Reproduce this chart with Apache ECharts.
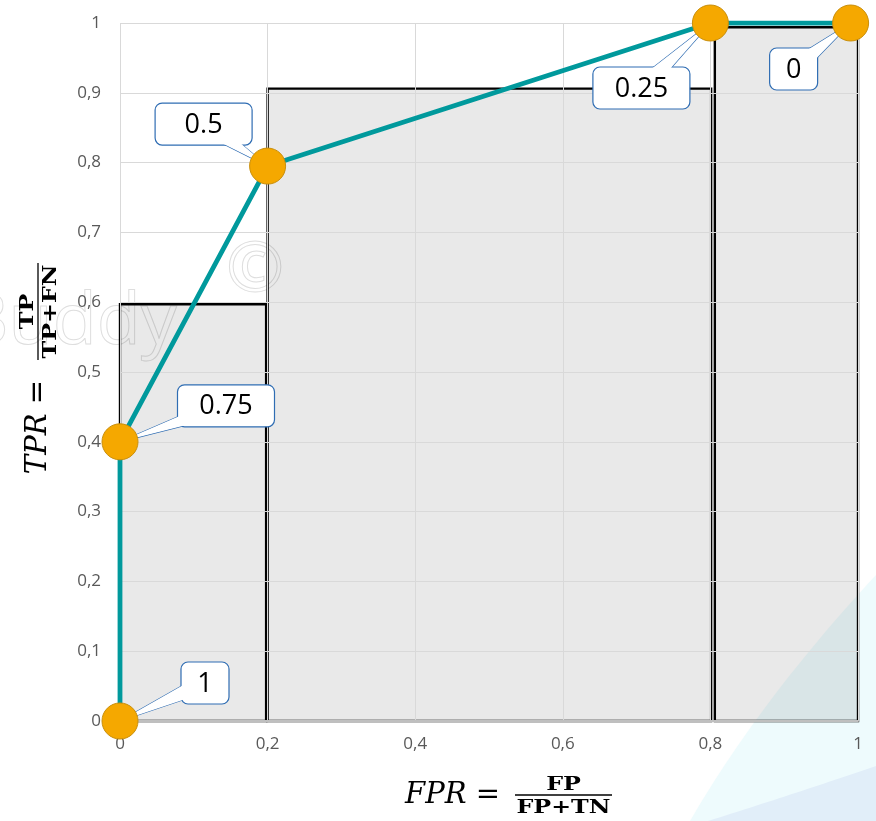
<!DOCTYPE html>
<html><head><meta charset="utf-8">
<script src="https://cdn.jsdelivr.net/npm/echarts@6/dist/echarts.min.js"></script>
<style>html,body{margin:0;padding:0;background:#fff}#chart{width:876px;height:821px}</style>
</head><body><div id="chart"></div>
<script>
// ---- data ----
const fpr = [0, 0, 0.2, 0.8, 0.99];
const tpr = [0, 0.4, 0.795, 1, 1];
const thresholds = ['1', '0.75', '0.5', '0.25', '0'];
const rectLeft = [0, 0.2, 0.806];
const rectRight = [0.198, 0.801, 1];
const rectTop = [0.597, 0.906, 0.994];
const xTickStep = 0.2;
const yTickStep = 0.1;

// ---- styling (pixel offsets of callout boxes relative to their points) ----
const calloutOffset = [[85, -38], [106, -36], [-64, -42], [-69, 65], [-57, 46]];

const chart = echarts.init(document.getElementById('chart'), null, {renderer: 'canvas'});
const fmt = v => String(Number(v.toFixed(2))).replace('.', ',');

// decorative background swoosh (quadratic curve sampled into a polygon)
function swoosh(p0, p1, p2) {
  const pts = [];
  for (let k = 0; k <= 30; k++) {
    const t = k / 30, a = (1 - t) * (1 - t), b = 2 * t * (1 - t), c = t * t;
    pts.push([a * p0[0] + b * p1[0] + c * p2[0], a * p0[1] + b * p1[1] + c * p2[1]]);
  }
  pts.push([876, 821]);
  return pts;
}

function mathName(x, y, rot, lhs, num, den, w, gap) {
  return {
    type: 'group', x: x, y: y, rotation: rot, z: 10,
    children: [
      {type: 'text', x: -gap, y: 0, style: {text: lhs, font: 'italic 29px "DejaVu Serif"', align: 'right', verticalAlign: 'middle', fill: '#000'}},
      {type: 'text', x: w / 2, y: 0, scaleX: 1.25, style: {text: num, font: 'bold 19px "DejaVu Serif"', align: 'center', verticalAlign: 'bottom', fill: '#000'}},
      {type: 'rect', shape: {x: 0, y: -0.65, width: w, height: 1.3}, style: {fill: '#000'}},
      {type: 'text', x: w / 2, y: 4, scaleX: 1.25, style: {text: den, font: 'bold 19px "DejaVu Serif"', align: 'center', verticalAlign: 'top', fill: '#000'}}
    ]
  };
}

const option = {
  animation: false,
  backgroundColor: '#fff',
  grid: {left: 120, right: 18, top: 23, bottom: 100, containLabel: false},
  graphic: [
    {type: 'polygon', z: -10, shape: {points: swoosh([690, 821], [760, 700], [876, 575])}, style: {fill: '#eefbfd'}},
    {type: 'polygon', z: -9, shape: {points: swoosh([708, 821], [800, 792], [876, 766])}, style: {fill: '#e1eef9'}},
    {type: 'text', z: -8, x: -38, y: 287, style: {text: 'Buddy', font: '72px "Open Sans"', fill: 'rgba(0,0,0,0)', stroke: '#dedede', lineWidth: 1, verticalAlign: 'top'}},
    {type: 'text', z: -8, x: 226, y: 236, style: {text: '©', font: '70px "Open Sans"', fill: 'rgba(0,0,0,0)', stroke: '#dedede', lineWidth: 1, verticalAlign: 'top'}},
    mathName(515, 795, 0, 'FPR =', 'FP', 'FP+TN', 97, 15),
    mathName(38, 360, Math.PI / 2, 'TPR =', 'TP', 'TP+FN', 97, 20)
  ],
  xAxis: {
    type: 'value', min: 0, max: 1, interval: xTickStep, z: 3,
    axisLine: {show: true, lineStyle: {color: '#bfbfbf', width: 2}},
    axisTick: {show: false},
    axisLabel: {formatter: fmt, color: '#595959', fontSize: 17, fontFamily: 'Open Sans', margin: 15},
    splitLine: {show: true, lineStyle: {color: '#d9d9d9', width: 1}}
  },
  yAxis: {
    type: 'value', min: 0, max: 1, interval: yTickStep, z: 3,
    axisLine: {show: false},
    axisTick: {show: false},
    axisLabel: {formatter: fmt, color: '#595959', fontSize: 17, fontFamily: 'Open Sans', margin: 19},
    splitLine: {show: true, lineStyle: {color: '#d9d9d9', width: 1}}
  },
  series: [
    {
      type: 'custom', z: 2, clip: false, silent: true,
      data: rectLeft.map((l, i) => [l, rectRight[i], rectTop[i]]),
      encode: {x: [0, 1], y: 2},
      renderItem: function (params, api) {
        const p0 = api.coord([api.value(0), 0]);
        const p1 = api.coord([api.value(1), api.value(2)]);
        return {
          type: 'rect',
          shape: {x: p0[0], y: p1[1], width: p1[0] - p0[0], height: p0[1] - p1[1]},
          style: {fill: 'rgba(0,0,0,0.088)', stroke: '#000', lineWidth: 2.4}
        };
      }
    },
    {
      type: 'custom', z: 4, clip: false, silent: true,
      data: fpr.map((x, i) => [x, tpr[i]]),
      encode: {x: 0, y: 1},
      renderItem: function (params, api) {
        const i = params.dataIndex;
        const p = api.coord([api.value(0), api.value(1)]);
        const off = calloutOffset[i];
        const c = [p[0] + off[0], p[1] + off[1]];
        const txt = thresholds[i];
        const w = txt.length > 1 ? 97 : 48, h = 42;
        const dx = c[0] - p[0], dy = c[1] - p[1];
        const L = Math.hypot(dx, dy);
        const nx = -dy / L * 9, ny = dx / L * 9;
        const wedge = [[p[0], p[1]], [c[0] + nx, c[1] + ny], [c[0] - nx, c[1] - ny]];
        return {
          type: 'group',
          children: [
            {type: 'polygon', shape: {points: wedge}, style: {fill: '#fff', stroke: '#2f6db3', lineWidth: 1.2}},
            {type: 'rect', shape: {x: c[0] - w / 2, y: c[1] - h / 2, width: w, height: h, r: 7}, style: {fill: '#fff', stroke: '#2f6db3', lineWidth: 1.2}},
            {type: 'polygon', shape: {points: wedge}, style: {fill: '#fff'}},
            {type: 'text', x: c[0], y: c[1] + 1, style: {text: txt, fill: '#000', font: '27px "Open Sans"', align: 'center', verticalAlign: 'middle'}}
          ]
        };
      }
    },
    {
      type: 'line', z: 5, silent: true,
      data: fpr.map((x, i) => [x, tpr[i]]),
      symbol: 'circle', symbolSize: 36,
      itemStyle: {color: '#f5a800', borderColor: '#c98f0c', borderWidth: 1},
      lineStyle: {color: '#00999c', width: 4.8},
      label: {show: false}
    }
  ]
};
chart.setOption(option);
</script>
</body></html>
